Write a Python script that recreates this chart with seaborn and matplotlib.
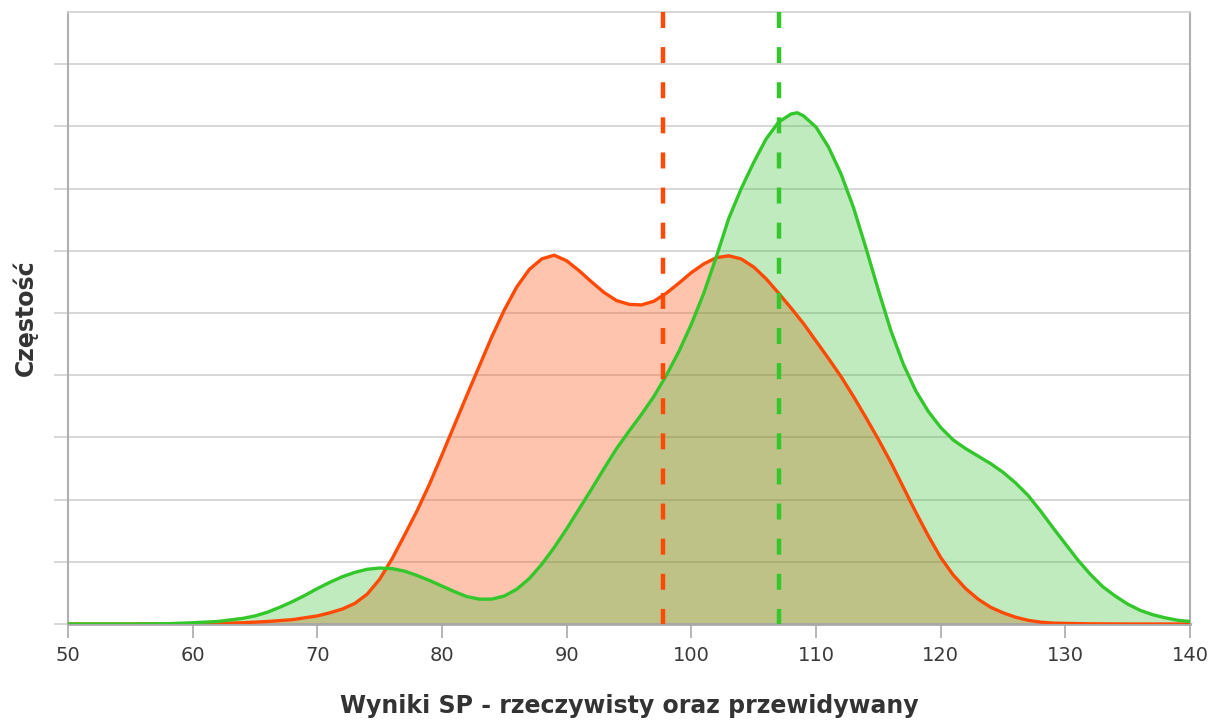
import numpy as np
import pandas as pd
import matplotlib
matplotlib.use("Agg")
import matplotlib.pyplot as plt
import seaborn as sns

# Wyniki - krzywe gestosci
x_real = [50, 55, 60, 62, 64, 66, 68, 70, 71, 72, 73, 74, 75, 76, 77, 78, 79, 80,
          81, 82, 83, 84, 85, 86, 87, 88, 89, 90, 91, 92, 93, 94, 95, 96, 97, 98,
          99, 100, 101, 102, 103, 104, 105, 106, 107, 108, 109, 110, 111, 112, 113,
          114, 115, 116, 117, 118, 119, 120, 121, 122, 123, 124, 125, 126, 127, 128,
          129, 130, 132, 135, 140]
y_real = [0, 0, 0.005, 0.01, 0.02, 0.04, 0.07, 0.13, 0.18, 0.24, 0.33, 0.48, 0.72,
          1.05, 1.43, 1.82, 2.25, 2.72, 3.2, 3.68, 4.15, 4.62, 5.05, 5.42, 5.7, 5.87,
          5.93, 5.84, 5.68, 5.5, 5.33, 5.2, 5.14, 5.13, 5.19, 5.32, 5.48, 5.65, 5.79,
          5.89, 5.92, 5.87, 5.74, 5.55, 5.32, 5.08, 4.83, 4.55, 4.27, 3.98, 3.66, 3.32,
          2.97, 2.6, 2.2, 1.8, 1.42, 1.07, 0.79, 0.57, 0.4, 0.27, 0.18, 0.11, 0.06,
          0.03, 0.015, 0.01, 0.003, 0, 0]

x_pred = [50, 55, 58, 60, 62, 64, 65, 66, 67, 68, 69, 70, 71, 72, 73, 74, 75, 76, 77,
          78, 79, 80, 81, 82, 83, 84, 85, 86, 87, 88, 89, 90, 91, 92, 93, 94, 95, 96,
          97, 98, 99, 100, 101, 102, 103, 104, 105, 106, 107, 108, 108.5, 109, 110,
          111, 112, 113, 114, 115, 116, 117, 118, 119, 120, 121, 122, 123, 124, 125,
          126, 127, 128, 129, 130, 131, 132, 133, 134, 135, 136, 137, 138, 139, 140]
y_pred = [0, 0, 0.005, 0.02, 0.04, 0.09, 0.13, 0.19, 0.27, 0.36, 0.46, 0.57, 0.67,
          0.76, 0.83, 0.88, 0.9, 0.89, 0.85, 0.78, 0.7, 0.61, 0.52, 0.44, 0.4, 0.4,
          0.45, 0.56, 0.73, 0.96, 1.23, 1.53, 1.85, 2.17, 2.5, 2.82, 3.1, 3.37, 3.66,
          4.0, 4.38, 4.82, 5.32, 5.9, 6.52, 7.0, 7.42, 7.8, 8.07, 8.2, 8.22, 8.17, 7.99,
          7.67, 7.24, 6.7, 6.05, 5.37, 4.72, 4.18, 3.75, 3.42, 3.16, 2.96, 2.82, 2.7,
          2.58, 2.44, 2.27, 2.07, 1.82, 1.55, 1.29, 1.03, 0.8, 0.6, 0.45, 0.32, 0.22,
          0.15, 0.1, 0.06, 0.04]

mean_real = 97.75
mean_pred = 107.0

x_ticks = [50, 60, 70, 80, 90, 100, 110, 120, 130, 140]
y_grid = [0, 1, 2, 3, 4, 5, 6, 7, 8, 9]

orange = "#ff4a05"
green = "#33c72b"

df_real = pd.DataFrame({"wynik": x_real, "gestosc": y_real})
df_pred = pd.DataFrame({"wynik": x_pred, "gestosc": y_pred})

sns.set_style("white")
plt.rcParams["font.family"] = ["DejaVu Sans"]

fig = plt.figure(figsize=(12.22, 7.2), dpi=100)
ax = fig.add_axes([68 / 1222, 1 - 624 / 720, (1190 - 68) / 1222, (624 - 12) / 720])

ax.fill_between(df_real["wynik"], df_real["gestosc"], color=orange, alpha=0.32, lw=0, zorder=2)
ax.fill_between(df_pred["wynik"], df_pred["gestosc"], color="#2ebe2e", alpha=0.3, lw=0, zorder=2)
sns.lineplot(data=df_real, x="wynik", y="gestosc", color=orange, lw=2.4, sort=False, ax=ax, zorder=4)
sns.lineplot(data=df_pred, x="wynik", y="gestosc", color=green, lw=2.4, sort=False, ax=ax, zorder=4)

# srednie - linie przerywane rysowane od gory osi
for m, c in [(mean_real, orange), (mean_pred, green)]:
    ax.plot([m, m], [1, 0], transform=ax.get_xaxis_transform(), color=c, lw=3.2,
            dashes=(3.6, 4.3), zorder=5)

ax.set_xlim(50, 140)
ax.set_ylim(0, 9.84)
ax.set_xticks(x_ticks)
ax.set_yticks(y_grid)
ax.set_yticklabels([])
ax.grid(axis="y", color="#d4d4d4", lw=1.3, zorder=1)
ax.set_axisbelow(True)

ax.tick_params(axis="x", length=10, width=1.3, color="#b0b0b0", labelsize=14,
               labelcolor="#3a3a3a", pad=6, bottom=True)
ax.tick_params(axis="y", length=10, width=1.3, color="#d4d4d4", left=True)

for side in ["left", "right"]:
    ax.spines[side].set_color("#b0b0b0")
    ax.spines[side].set_linewidth(1.5)
ax.spines["top"].set_color("#d4d4d4")
ax.spines["top"].set_linewidth(1.3)
ax.spines["bottom"].set_color("#a8a8a8")
ax.spines["bottom"].set_linewidth(2)

ax.set_xlabel("Wyniki SP - rzeczywisty oraz przewidywany", fontsize=17,
              fontweight="bold", color="#333333", labelpad=21)
ax.set_ylabel("Częstość", fontsize=17, fontweight="bold", color="#333333", labelpad=8)

fig.savefig("out.png", dpi=100)
